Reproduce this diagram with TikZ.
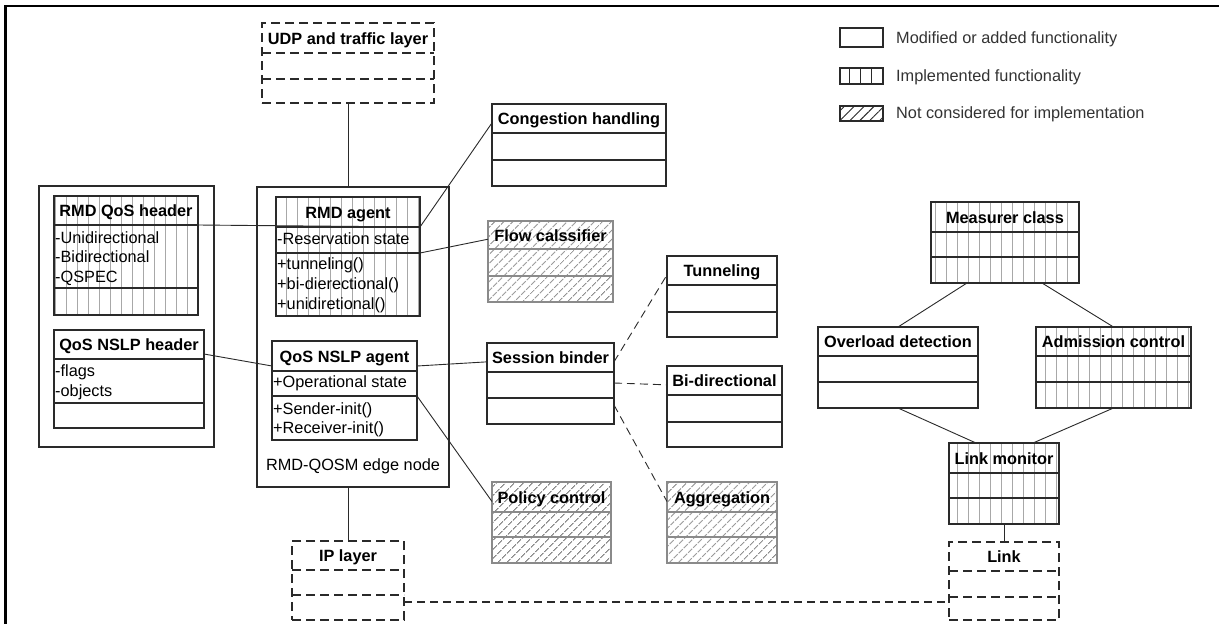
\documentclass[tikz,border=0pt]{standalone}
\usepackage{fontspec}
\setmainfont{Liberation Sans}
\usetikzlibrary{patterns.meta}

\definecolor{ink}{HTML}{2A2A2A}
\definecolor{hatchgray}{HTML}{8A8A8A}
\definecolor{stripe}{HTML}{A8A8A8}
\definecolor{legendtext}{HTML}{333333}

\tikzset{
  % class boxes, one style for the outline and one for the compartment rules
  plainbox/.style={draw=ink, line width=1.4pt, fill=white},
  plainrule/.style={draw=ink, line width=1.4pt},
  implbox/.style={draw=ink, line width=1.4pt,
    pattern={Lines[angle=90,distance=11pt,line width=0.75pt]}, pattern color=stripe},
  implrule/.style={draw=ink, line width=1.4pt},
  hatchbox/.style={draw=hatchgray, line width=1.3pt,
    pattern={Lines[angle=45,distance=6.4pt,line width=1pt]}, pattern color=hatchgray},
  hatchrule/.style={draw=hatchgray, line width=1.3pt},
  layerbox/.style={draw=ink, line width=1.5pt, dash pattern=on 9pt off 5pt},
  layerrule/.style={draw=ink, line width=1.5pt, dash pattern=on 9pt off 5pt},
  wire/.style={draw=ink, line width=0.9pt},
  dwire/.style={wire, dash pattern=on 8pt off 5pt},
  titletxt/.style={font=\fontsize{16.3}{19}\selectfont\bfseries, text=black, inner sep=0, anchor=base},
  attrtxt/.style={font=\fontsize{16.3}{19}\selectfont, text=black, inner sep=0, anchor=base west},
  legtxt/.style={font=\fontsize{16.3}{19}\selectfont, text=legendtext, inner sep=0, anchor=base west},
}

% #1 name, #2 x1, #3 y1, #4 x2, #5 y2, #6 first rule, #7 second rule, #8 kind, #9 title
\newcommand\umlbox[9]{%
  \node[#8box, anchor=north west, inner sep=0, outer sep=0,
        minimum width={(#4)-(#2)}, minimum height={(#5)-(#3)}] (#1) at (#2,#3) {};
  \coordinate (#1-aw) at (#2,#6); \coordinate (#1-ae) at (#4,#6);
  \coordinate (#1-bw) at (#2,#7); \coordinate (#1-be) at (#4,#7);
  \coordinate (#1-tw) at (#2,{#3+0.65*(#6-#3)});
  \coordinate (#1-te) at (#4,{#3+0.65*(#6-#3)});
  \draw[#8rule] (#1-aw) -- (#1-ae);
  \draw[#8rule] (#1-bw) -- (#1-be);
  \node[titletxt] (#1-title) at ({(#2+#4)/2},{(#3+#6)/2+6}) {#9};
}
% plain frame: #1 name, #2 x1, #3 y1, #4 x2, #5 y2, #6 style
\newcommand\plainframe[6]{%
  \node[#6, anchor=north west, inner sep=0, outer sep=0,
        minimum width={(#4)-(#2)}, minimum height={(#5)-(#3)}] (#1) at (#2,#3) {};
}

\begin{document}
\begin{tikzpicture}[x=1pt, y=-1pt]
\useasboundingbox (0,0) rectangle (1219,624);
\fill[white] (0,0) rectangle (1219,624);

% outer frame
\draw[black, line width=2.6pt] (5.3,624) -- (5.3,6) -- (1219,6);

% legend
\plainframe{leg1}{840}{28}{883}{47}{plainbox}
\plainframe{leg2}{840}{68}{883}{84}{plainbox}
\foreach \dx in {9,20,31}
  \draw[ink, line width=0.9pt] ([xshift=\dx pt]leg2.north west) -- ([xshift=\dx pt]leg2.south west);
\plainframe{leg3}{840}{106}{883}{121}{draw=ink, line width=1.2pt,
  pattern={Lines[angle=45,distance=7pt,line width=0.9pt]}, pattern color=ink}
\node[legtxt] (leg1-txt) at (896,43) {Modified or added functionality};
\node[legtxt] (leg2-txt) at (896,81) {Implemented functionality};
\node[legtxt] (leg3-txt) at (896,118) {Not considered for implementation};

% containers
\plainframe{hdrs}{39}{186}{214}{447}{plainbox}
\plainframe{edge}{257}{187}{449}{487}{plainbox}
\node[attrtxt, anchor=base] (edge-label) at (353,470) {RMD-QOSM edge node};

% layers
\umlbox{udp}{262}{23}{434}{103}{53}{79}{layer}{UDP and traffic layer}
\umlbox{ip}{292}{541}{404}{620}{570}{595}{layer}{IP layer}
\umlbox{link}{949}{542}{1059}{620}{571}{597}{layer}{Link}

% headers
\umlbox{rmdh}{54}{196}{198}{315}{225}{288}{impl}{RMD QoS header}
\node[attrtxt] (rmdh-a1) at (55,243) {-Unidirectional};
\node[attrtxt] (rmdh-a2) at (55,262.5) {-Bidirectional};
\node[attrtxt] (rmdh-a3) at (55,282) {-QSPEC};
\umlbox{qosh}{54}{330}{204}{428}{359}{403}{plain}{QoS NSLP header}
\node[attrtxt] (qosh-a1) at (55,376) {-flags};
\node[attrtxt] (qosh-a2) at (55,396) {-objects};

% agents
\umlbox{rmda}{276}{197}{420}{316}{227}{253}{impl}{RMD agent}
\node[attrtxt] (rmda-a1) at (277,244) {-Reservation state};
\node[attrtxt] (rmda-m1) at (277,269) {+tunneling()};
\node[attrtxt] (rmda-m2) at (277,289) {+bi-dierectional()};
\node[attrtxt] (rmda-m3) at (277,309) {+unidiretional()};
\umlbox{qosa}{272}{341}{417}{440}{371}{396}{plain}{QoS NSLP agent}
\node[attrtxt] (qosa-a1) at (273,387) {+Operational state};
\node[attrtxt] (qosa-m1) at (273,414) {+Sender-init()};
\node[attrtxt] (qosa-m2) at (273,433) {+Receiver-init()};

% functional blocks
\umlbox{cong}{492}{104}{666}{186}{133}{160}{plain}{Congestion handling}
\umlbox{flow}{488}{221}{613}{302}{249}{276}{hatch}{Flow calssifier}
\umlbox{sess}{487}{343}{614}{424}{372}{398}{plain}{Session binder}
\umlbox{pol}{492}{482}{611}{563}{512}{537}{hatch}{Policy control}
\umlbox{tun}{667}{256}{777}{337}{285}{312}{plain}{Tunneling}
\umlbox{bidir}{667}{366}{782}{447}{395}{422}{plain}{Bi-directional}
\umlbox{aggr}{667}{482}{777}{563}{512}{537}{hatch}{Aggregation}

% measurement side
\umlbox{meas}{931}{202}{1079}{283}{232}{257}{impl}{Measurer class}
\umlbox{over}{818}{327}{978}{408}{356}{382}{plain}{Overload detection}
\umlbox{adm}{1036}{327}{1191}{408}{356}{382}{impl}{Admission control}
\umlbox{lmon}{949}{443}{1059}{524}{473}{498}{impl}{Link monitor}

% connectors
\draw[wire] (udp.south) -- (udp.south |- edge.north);
\draw[wire] (ip.north) -- (ip.north |- edge.south);
\draw[wire] (rmdh-ae) -- (rmda-ae);
\draw[wire] (rmda-ae) -- (cong-tw);
\draw[wire] (rmda-be) -- (flow-tw);
\draw[wire] ([yshift=5pt]qosh-ae) -- ([yshift=5pt]qosa-aw);
\draw[wire] ([yshift=5pt]qosa-ae) -- (sess-tw);
\draw[wire] (qosa-be) -- (pol-tw);
\draw[dwire] (sess-te) -- (tun-tw);
\draw[dwire] ([yshift=-11pt]sess-ae) -- (bidir-tw);
\draw[dwire] ([yshift=-7pt]sess-be) -- (aggr-tw);
\draw[dwire, line width=1.3pt] ([yshift=-7pt]ip-be) -- ([yshift=-7pt]ip-be -| link.west);
\draw[wire] ([xshift=-38pt]meas.south) -- (over.north);
\draw[wire] ([xshift=37pt]meas.south) -- (adm.north);
\draw[wire] (over.south) -- ([xshift=-28pt]lmon.north);
\draw[wire] (adm.south) -- ([xshift=29pt]lmon.north);
\draw[wire] (lmon.south) -- (link.north);
\end{tikzpicture}
\end{document}
